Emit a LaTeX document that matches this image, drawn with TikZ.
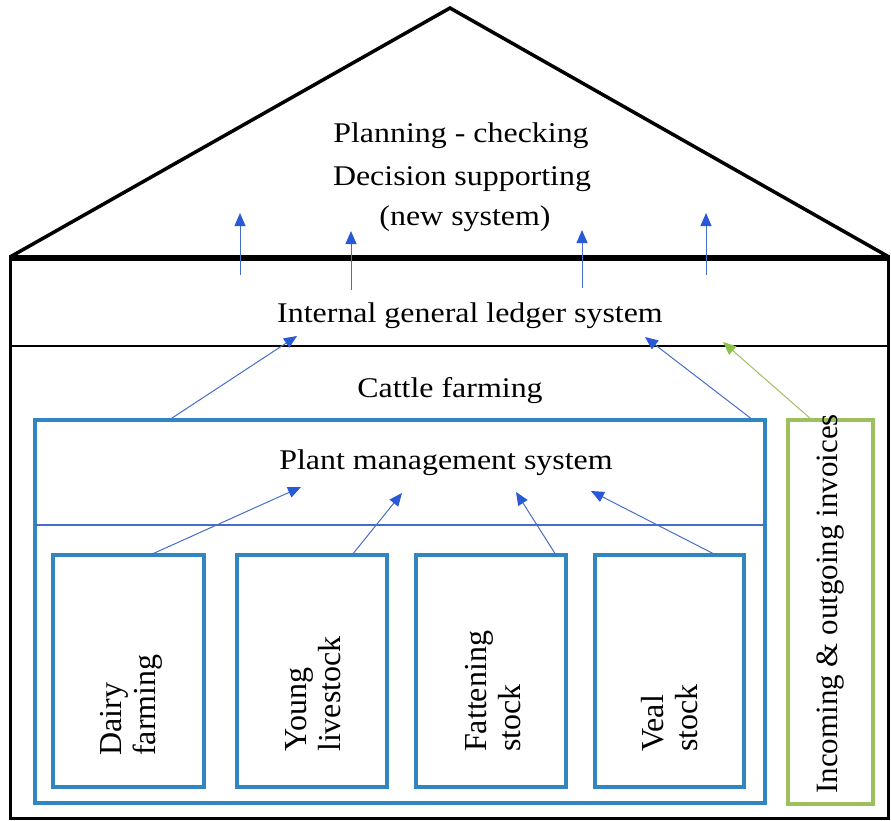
\documentclass[tikz,border=0pt]{standalone}
\usepackage{fontspec}
\setmainfont{Liberation Serif}
\usetikzlibrary{arrows.meta}
\definecolor{boxblue}{RGB}{49,134,192}
\definecolor{boxgreen}{RGB}{155,192,92}
\definecolor{linblue}{RGB}{70,110,200}
\definecolor{headblue}{RGB}{40,90,215}
\definecolor{lingreen}{RGB}{160,190,100}
\definecolor{headgreen}{RGB}{140,195,75}
\begin{document}
\begin{tikzpicture}[x=1pt,y=-1pt,
  htext/.style={font=\fontsize{28.5}{34}\selectfont, xscale=1.12, inner sep=0pt, anchor=base},
  vtext/.style={font=\fontsize{32}{34}\selectfont, rotate=90, anchor=west, align=left, inner sep=0pt},
  bluebox/.style={draw=boxblue, line width=4pt, inner sep=0pt, outer sep=0pt},
  greenbox/.style={draw=boxgreen, line width=4pt, inner sep=0pt, outer sep=0pt},
  arr/.style={draw=linblue, line width=1pt, -{Triangle[length=13pt,width=11pt,color=headblue]}},
  garr/.style={draw=lingreen, line width=1pt, -{Triangle[length=13pt,width=11pt,color=headgreen]}}]
\useasboundingbox (0,0) rectangle (891,820);

% house walls
\draw[line width=3pt] (10,258) rectangle (888,818);
% roof
\draw[line width=3.5pt, line join=miter] (10,257) -- (450,8) -- (889,257);
\draw[line width=5.5pt] (9,258) -- (890,258);
% ledger separator
\draw[line width=1.2pt] (10,346) -- (888,346);

% roof texts
\node[htext] (roof1) at (461,142) {Planning - checking};
\node[htext] (roof2) at (462,185) {Decision supporting};
\node[htext] (roof3) at (465,225) {(new system)};

% top arrows
\coordinate (a1s) at (240,275); \coordinate (a1e) at (240,213);
\coordinate (a2s) at (351,290); \coordinate (a2e) at (351,231);
\coordinate (a3s) at (582,288); \coordinate (a3e) at (582,230);
\coordinate (a4s) at (706,275); \coordinate (a4e) at (706,213);
\draw[arr] (a1s) -- (a1e);
\draw[arr] (a2s) -- (a2e);
\draw[arr] (a3s) -- (a3e);
\draw[arr] (a4s) -- (a4e);

\node[htext] (ledger) at (470,322) {Internal general ledger system};
\node[htext] (cattle) at (450,397) {Cattle farming};

% boxes
\node[bluebox, minimum width=730pt, minimum height=383pt] (big) at (400,611.5) {};
\node[greenbox, minimum width=85pt, minimum height=384pt] (inv) at (830.5,612) {};
\draw[linblue, line width=1.2pt] (big.west |- 0,525) coordinate (sepL) -- (big.east |- 0,525) coordinate (sepR);
\node[htext] (plant) at (446,469) {Plant management system};

\node[bluebox, minimum width=151pt, minimum height=232pt] (b1) at (128.5,671) {};
\node[bluebox, minimum width=150pt, minimum height=232pt] (b2) at (312,671) {};
\node[bluebox, minimum width=150pt, minimum height=232pt] (b3) at (491,671) {};
\node[bluebox, minimum width=149pt, minimum height=232pt] (b4) at (669.5,671) {};

\node[vtext] (t1) at (131,756) {Dairy\\farming};
\node[vtext] (t2) at (313,752) {Young\\livestock};
\node[vtext] (t3) at (493,752) {Fattening\\stock};
\node[vtext] (t4) at (670,752) {Veal\\stock};
\node[vtext, font=\fontsize{31}{34}\selectfont] (t5) at (831,794) {Incoming \& outgoing invoices};

% arrows from small boxes to plant management
\coordinate (p1) at (301,487);
\coordinate (p2) at (402,493);
\coordinate (p3) at (516,492);
\coordinate (p4) at (591,491);
\draw[arr] ([xshift=21.5pt]b1.north) -- (p1);
\draw[arr] ([xshift=40pt]b2.north) -- (p2);
\draw[arr] ([xshift=65pt]b3.north) -- (p3);
\draw[arr] ([xshift=46.5pt]b4.north) -- (p4);

% arrows into ledger
\coordinate (l1) at (297,336);
\coordinate (l2) at (645,337);
\coordinate (l3) at (723,342);
\draw[arr] ([xshift=-231pt]big.north) -- (l1);
\draw[arr] ([xshift=353pt]big.north) -- (l2);
\draw[garr] ([xshift=-18.5pt]inv.north) -- (l3);
\end{tikzpicture}
\end{document}
